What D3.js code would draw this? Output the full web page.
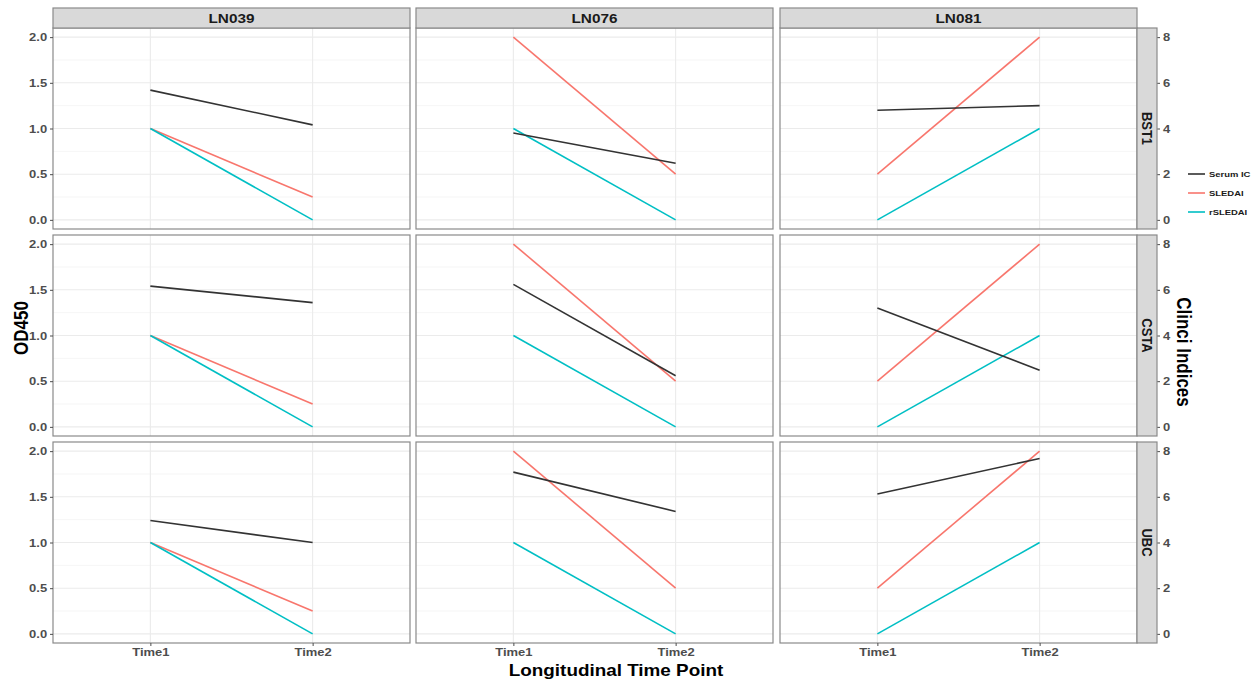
<!DOCTYPE html>
<html>
<head>
<meta charset="utf-8">
<script src="https://cdn.jsdelivr.net/npm/d3@7"></script>
<style>
  body { margin: 0; background: #fff; }
  text { font-family: "Liberation Sans", Arial, sans-serif; }
</style>
</head>
<body>
<svg id="chart" width="1258" height="681"></svg>
<script>
// facets
var patients = ["LN039", "LN076", "LN081"];
var genes = ["BST1", "CSTA", "UBC"];
var times = ["Time1", "Time2"];

// Serum IC (OD450), rows = genes, cols = patients, [Time1, Time2]
var serumBST1 = [[1.42, 1.04], [0.95, 0.62], [1.20, 1.25]];
var serumCSTA = [[1.54, 1.36], [1.56, 0.56], [1.30, 0.62]];
var serumUBC  = [[1.24, 1.00], [1.77, 1.34], [1.53, 1.92]];
var serumIC = [serumBST1, serumCSTA, serumUBC];

// clinical indices per patient (same for every gene)
var sledai  = [[4, 1], [8, 2], [2, 8]];
var rsledai = [[4, 0], [4, 0], [0, 4]];

var seriesNames = ["Serum IC", "SLEDAI", "rSLEDAI"];
var seriesColors = ["#333333", "#F8766D", "#00BFC4"];

var svg = d3.select("#chart");

// layout
var colX = [53, 416, 780], panelW = 357;
var rowY = [28, 235, 442], panelH = 201;
var stripTop = 8, stripH = 20;
var rStripW = 20;
var SX = 1.18; // the original image is a bit wide, text looks stretched

var x = d3.scalePoint().domain(times).range([0, panelW]).padding(0.6);
var yLeft = d3.scaleLinear().domain([-0.1, 2.1]).range([panelH, 0]);
var yRight = d3.scaleLinear().domain([-0.4, 8.4]).range([panelH, 0]);

var lineGen = d3.line()
    .x(function (d) { return x(d.t); })
    .y(function (d) { return yLeft(d.v); });

var grey = "#8a8a8a";

function styleTicks(ax) {
    ax.select(".domain").remove();
    ax.selectAll("line").attr("stroke", "#4d4d4d");
    ax.selectAll("text").attr("fill", "#4d4d4d")
        .style("font-size", "11px").style("font-weight", "bold")
        .attr("transform", "scale(" + SX + ",1)");
}

genes.forEach(function (gene, r) {
    patients.forEach(function (pat, c) {
        var g = svg.append("g").attr("transform", "translate(" + colX[c] + "," + rowY[r] + ")");

        // minor grid
        g.selectAll("line.minor").data([0.25, 0.75, 1.25, 1.75]).enter().append("line")
            .attr("x1", 0).attr("x2", panelW)
            .attr("y1", function (d) { return yLeft(d); }).attr("y2", function (d) { return yLeft(d); })
            .attr("stroke", "#f2f2f2").attr("stroke-width", 0.7);
        // major grid
        g.selectAll("line.major").data([0, 0.5, 1, 1.5, 2]).enter().append("line")
            .attr("x1", 0).attr("x2", panelW)
            .attr("y1", function (d) { return yLeft(d); }).attr("y2", function (d) { return yLeft(d); })
            .attr("stroke", "#ebebeb").attr("stroke-width", 1.1);
        g.selectAll("line.vmajor").data(times).enter().append("line")
            .attr("x1", function (d) { return x(d); }).attr("x2", function (d) { return x(d); })
            .attr("y1", 0).attr("y2", panelH)
            .attr("stroke", "#ebebeb").attr("stroke-width", 1.1);

        // series (clinical indices mapped onto the left scale through the right one)
        var series = [
            times.map(function (t, i) { return { t: t, v: serumIC[r][c][i] }; }),
            times.map(function (t, i) { return { t: t, v: yLeft.invert(yRight(sledai[c][i])) }; }),
            times.map(function (t, i) { return { t: t, v: yLeft.invert(yRight(rsledai[c][i])) }; })
        ];
        [1, 2, 0].forEach(function (s) {
            g.append("path").datum(series[s])
                .attr("d", lineGen)
                .attr("fill", "none")
                .attr("stroke", seriesColors[s])
                .attr("stroke-width", 1.6);
        });

        // border
        g.append("rect").attr("x", 0).attr("y", 0).attr("width", panelW).attr("height", panelH)
            .attr("fill", "none").attr("stroke", grey).attr("stroke-width", 1.2);

        if (c === 0) {
            styleTicks(g.append("g").call(d3.axisLeft(yLeft).tickValues([0, 0.5, 1, 1.5, 2])
                .tickFormat(d3.format(".1f")).tickSize(3).tickPadding(2)));
        }
        if (c === 2) {
            styleTicks(g.append("g").attr("transform", "translate(" + (panelW + rStripW) + ",0)")
                .call(d3.axisRight(yRight).tickValues([0, 2, 4, 6, 8]).tickSize(3).tickPadding(2)));

            // row strip
            g.append("rect").attr("x", panelW).attr("y", 0).attr("width", rStripW).attr("height", panelH)
                .attr("fill", "#d9d9d9").attr("stroke", grey).attr("stroke-width", 1.2);
            g.append("text")
                .attr("transform", "translate(" + (panelW + rStripW / 2) + "," + (panelH / 2) + ") rotate(90) scale(1," + SX + ")")
                .attr("text-anchor", "middle").attr("dy", "0.35em")
                .style("font-size", "13px").style("font-weight", "bold").attr("fill", "#1a1a1a")
                .text(gene);
        }
        if (r === 2) {
            styleTicks(g.append("g").attr("transform", "translate(0," + panelH + ")")
                .call(d3.axisBottom(x).tickSize(3).tickPadding(2)));
        }
        // column strip
        if (r === 0) {
            svg.append("rect").attr("x", colX[c]).attr("y", stripTop).attr("width", panelW).attr("height", stripH)
                .attr("fill", "#d9d9d9").attr("stroke", grey).attr("stroke-width", 1.2);
            svg.append("text")
                .attr("transform", "translate(" + (colX[c] + panelW / 2) + "," + (stripTop + stripH / 2) + ") scale(" + SX + ",1)")
                .attr("text-anchor", "middle").attr("dy", "0.35em")
                .style("font-size", "13px").style("font-weight", "bold").attr("fill", "#1a1a1a")
                .text(pat);
        }
    });
});

// axis titles
svg.append("text").attr("transform", "translate(21,328) rotate(-90) scale(1," + SX + ")")
    .attr("text-anchor", "middle").attr("dy", "0.35em")
    .style("font-size", "17px").style("font-weight", "bold").text("OD450");
svg.append("text").attr("transform", "translate(1184,352) rotate(90) scale(1," + SX + ")")
    .attr("text-anchor", "middle").attr("dy", "0.35em")
    .style("font-size", "17px").style("font-weight", "bold").text("Clinci Indices");
svg.append("text").attr("transform", "translate(616,670) scale(" + SX + ",1)")
    .attr("text-anchor", "middle").attr("dy", "0.35em")
    .style("font-size", "16px").style("font-weight", "bold").text("Longitudinal Time Point");

// legend
var leg = svg.append("g").attr("transform", "translate(1188,174)");
seriesNames.forEach(function (name, i) {
    leg.append("line").attr("x1", 0).attr("x2", 17).attr("y1", i * 19).attr("y2", i * 19)
        .attr("stroke", seriesColors[i]).attr("stroke-width", 1.6);
    leg.append("text").attr("transform", "translate(21," + (i * 19) + ") scale(" + SX + ",1)")
        .attr("dy", "0.35em")
        .style("font-size", "8px").style("font-weight", "bold").attr("fill", "#1a1a1a").text(name);
});
</script>
</body>
</html>
